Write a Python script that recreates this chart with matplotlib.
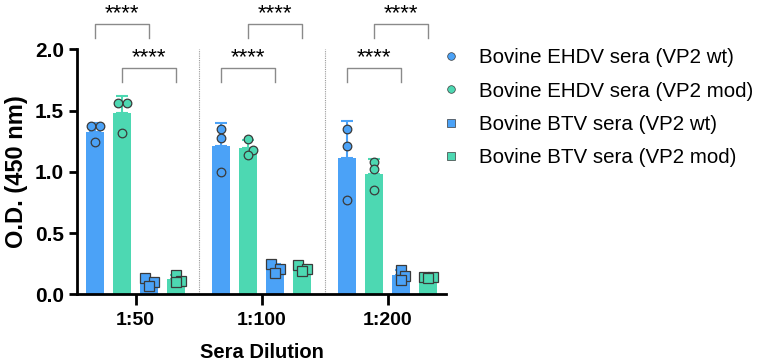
import numpy as np
import matplotlib
matplotlib.use("Agg")
import matplotlib.pyplot as plt
from matplotlib.lines import Line2D

plt.rcParams['font.family'] = ['Liberation Sans', 'DejaVu Sans']

dilutions = ['1:50', '1:100', '1:200']
series = ['Bovine EHDV sera (VP2 wt)', 'Bovine EHDV sera (VP2 mod)',
          'Bovine BTV sera (VP2 wt)', 'Bovine BTV sera (VP2 mod)']

# replicate O.D. readings per dilution (3 each)
ehdv_wt = [[1.37, 1.37, 1.24], [1.35, 1.28, 1.00], [1.35, 1.21, 0.77]]
ehdv_mod = [[1.56, 1.56, 1.32], [1.27, 1.18, 1.14], [1.08, 1.02, 0.85]]
btv_wt = [[0.13, 0.10, 0.07], [0.25, 0.21, 0.17], [0.20, 0.15, 0.12]]
btv_mod = [[0.16, 0.11, 0.10], [0.24, 0.21, 0.19], [0.14, 0.14, 0.13]]

# significance brackets: (dilution, series a, series b, level)
sig_pairs = [(0, 0, 2, 'high'), (0, 1, 3, 'low'),
             (1, 1, 3, 'high'), (1, 0, 2, 'low'),
             (2, 1, 3, 'high'), (2, 0, 2, 'low')]
sig_label = '****'

blue = '#4BA2F7'
green = '#4DD8B2'
colors = [blue, green, blue, green]
markers = ['o', 'o', 's', 's']
data = [ehdv_wt, ehdv_mod, btv_wt, btv_mod]

offsets = [-0.322, -0.107, 0.107, 0.322]
width = 0.143
jit = [-0.035, 0.035, 0.0]

fig = plt.figure(figsize=(7.59, 3.64), dpi=100)
ax = fig.add_axes([0.1018, 0.1915, 0.4858, 0.673])

x = np.arange(len(dilutions))
for s in range(4):
    vals = np.array(data[s])
    means = vals.mean(axis=1)
    sds = vals.std(axis=1, ddof=1)
    xs = x + offsets[s]
    ax.bar(xs, means, width=width, color=colors[s], zorder=2)
    ax.errorbar(xs, means, yerr=[np.zeros_like(sds), sds], fmt='none',
                ecolor=colors[s], elinewidth=1.5, capsize=4, capthick=1.5, zorder=2)
    for i in range(len(dilutions)):
        order = np.argsort(-vals[i])
        for k, j in enumerate(order):
            # spread the points that sit near each other
            near = np.abs(vals[i] - vals[i][j]) < 0.05
            dx = jit[k] if near.sum() > 1 else 0.0
            ax.plot(xs[i] + dx, vals[i][j], marker=markers[s], ms=6.2 if s < 2 else 6.8,
                    mfc=colors[s], mec='#3a3a3a', mew=0.9, ls='none', zorder=3, clip_on=False)

for b in [0.5, 1.5]:
    ax.axvline(b, color='#9a9a9a', ls=(0, (1, 1)), lw=0.8, zorder=1)

ax.set_xlim(-0.464, 2.464)
ax.set_ylim(0, 2.0)
ax.set_yticks([0, 0.5, 1.0, 1.5, 2.0])
ax.set_yticklabels(['0.0', '0.5', '1.0', '1.5', '2.0'])
ax.set_xticks(x)
ax.set_xticklabels(dilutions)
for sp in ['top', 'right']:
    ax.spines[sp].set_visible(False)
for sp in ['left', 'bottom']:
    ax.spines[sp].set_linewidth(2)
ax.tick_params(width=2, length=6, labelsize=15)
ax.tick_params(axis='x', length=8, pad=5, labelsize=14)
for lab in ax.get_xticklabels() + ax.get_yticklabels():
    lab.set_fontweight('bold')
ax.set_ylabel('O.D. (450 nm)', fontsize=17, fontweight='bold', labelpad=5)
ax.set_xlabel('Sera Dilution', fontsize=14.5, fontweight='bold', labelpad=10)

levels = {'high': (2.21, 2.09, 2.29), 'low': (1.85, 1.735, 1.93)}
for d, a, b, lvl in sig_pairs:
    top, leg, ty = levels[lvl]
    x1 = x[d] + offsets[a]
    x2 = x[d] + offsets[b]
    ax.plot([x1, x1, x2, x2], [leg, top, top, leg], color='#8a8a8a', lw=1.0, clip_on=False)
    ax.text((x1 + x2) / 2, ty, sig_label, ha='center', va='center', fontsize=16,
            clip_on=False)

handles = [Line2D([], [], marker=markers[s], color='none', mfc=colors[s], mec='#3a3a3a',
                  mew=0.5, ms=5.5) for s in range(4)]
fig.legend(handles, series, loc='upper left', bbox_to_anchor=(0.5697, 0.89), frameon=False,
           fontsize=14.8, handletextpad=0.85, labelspacing=0.7, handlelength=1.0,
           borderaxespad=0)

fig.savefig('out.png', dpi=100)
